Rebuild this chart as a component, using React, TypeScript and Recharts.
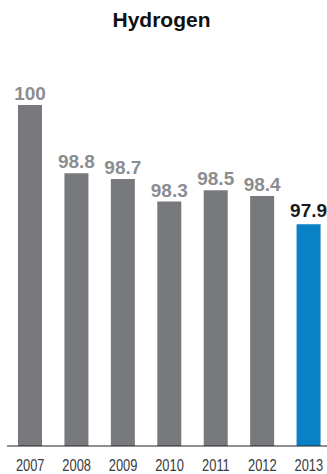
import { BarChart, Bar, XAxis, YAxis, Cell, LabelList } from "recharts";

const years = ["2007", "2008", "2009", "2010", "2011", "2012", "2013"];
const values = [100, 98.8, 98.7, 98.3, 98.5, 98.4, 97.9];
const highlightYear = "2013";

const GRAY = "#77797c";
const BLUE = "#0a80c6";
const LABEL_GRAY = "#8b8d90";

const data = years.map((year, i) => ({ year, value: values[i] }));

const FONT = "'Liberation Sans', Arial, Helvetica, sans-serif";

// year labels in the source are a narrow face, so squeeze them horizontally
function YearTick(props: any) {
  const { x, y, payload } = props;
  return (
    <g transform={`translate(${x},${y})`}>
      <text
        x={0}
        y={0}
        dy={25}
        textAnchor="middle"
        fontSize={16.5}
        fill="#3c3c3c"
        fontFamily={FONT}
        transform="scale(0.78,1)"
      >
        {payload.value}
      </text>
    </g>
  );
}

function ValueLabel(props: any) {
  const { x, y, width, value, index } = props;
  const isLast = data[index].year === highlightYear;
  return (
    <text
      x={x + width / 2}
      y={y - (isLast ? 7 : 5)}
      textAnchor="middle"
      fontSize={19}
      fontWeight="bold"
      fontFamily={FONT}
      fill={isLast ? "#1a1a1a" : LABEL_GRAY}
    >
      {value}
    </text>
  );
}

export default function App() {
  return (
    <div
      style={{
        position: "absolute",
        left: 0,
        top: 0,
        width: 327,
        height: 474,
        overflow: "hidden",
        background: "#fff",
        fontFamily: FONT,
      }}
    >
      <div
        style={{
          position: "absolute",
          top: 9,
          left: 0,
          width: 323,
          textAlign: "center",
          fontSize: 21,
          lineHeight: "21px",
          fontWeight: "bold",
          color: "#111",
        }}
      >
        Hydrogen
      </div>
      <BarChart
        width={332}
        height={474}
        data={data}
        margin={{ top: 105, right: 0, bottom: 0, left: 7 }}
      >
        <XAxis
          dataKey="year"
          height={28}
          tickLine={false}
          tickSize={0}
          tickMargin={0}
          axisLine={{ stroke: "#222", strokeWidth: 1 }}
          tick={<YearTick />}
          interval={0}
        />
        <YAxis hide domain={[94, 100]} allowDataOverflow />
        <Bar dataKey="value" barSize={24} isAnimationActive={false}>
          {data.map((d) => (
            <Cell key={d.year} fill={d.year === highlightYear ? BLUE : GRAY} />
          ))}
          <LabelList dataKey="value" content={<ValueLabel />} />
        </Bar>
      </BarChart>
    </div>
  );
}
